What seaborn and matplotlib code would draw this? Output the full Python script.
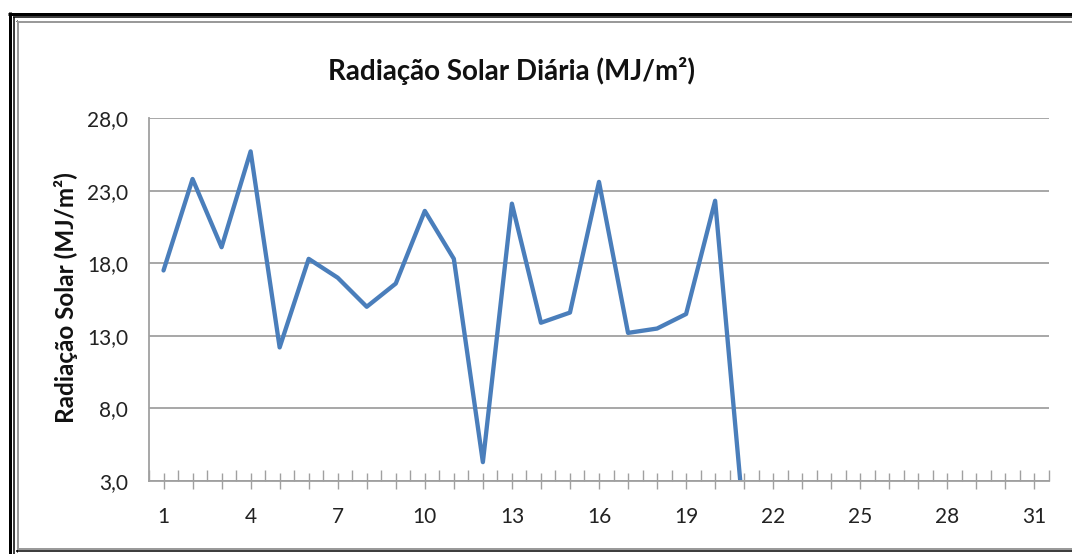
import matplotlib
matplotlib.use("Agg")
import matplotlib.pyplot as plt
from matplotlib.lines import Line2D
from matplotlib.ticker import FixedLocator, FuncFormatter
import seaborn as sns
import pandas as pd

# ---- data ----
days = list(range(1, 22))
radiation = [17.5, 23.8, 19.1, 25.7, 12.2, 18.3, 17.0, 15.0, 16.6, 21.6,
             18.3, 4.3, 22.1, 13.9, 14.6, 23.6, 13.2, 13.5, 14.5, 22.3, 0.0]
y_ticks = [3.0, 8.0, 13.0, 18.0, 23.0, 28.0]
x_tick_labels = [1, 4, 7, 10, 13, 16, 19, 22, 25, 28, 31]
title = "Radiação Solar Diária (MJ/m²)"
ylabel = "Radiação Solar (MJ/m²)"

sns.set_theme(style="white")
plt.rcParams["font.family"] = ["Lato", "DejaVu Sans"]

W, H = 1072, 554
fig = plt.figure(figsize=(W / 100, H / 100), dpi=100)
fig.patch.set_facecolor("white")

ax = fig.add_axes([149 / W, 1 - 481 / H, (1049 - 149) / W, (481 - 118) / H])
df = pd.DataFrame({"dia": days, "rad": radiation})
sns.lineplot(data=df, x="dia", y="rad", ax=ax, color="#4a7ebb", linewidth=3.1)

ax.set_xlim(0.5, 31.5)
ax.set_ylim(3, 28)
ax.set_yticks(y_ticks)
ax.yaxis.set_major_formatter(FuncFormatter(lambda v, p: f"{v:.1f}".replace(".", ",")))
ax.xaxis.set_major_locator(FixedLocator(list(range(1, 32))))
ax.xaxis.set_major_formatter(FuncFormatter(lambda v, p: str(int(round(v))) if int(round(v)) in x_tick_labels else ""))
ax.xaxis.set_minor_locator(FixedLocator([i + 0.5 for i in range(0, 32)]))

ax.grid(axis="y", color="#a0a0a0", linewidth=1.3)
ax.grid(axis="x", visible=False)
ax.set_axisbelow(True)
for s in ["top", "right"]:
    ax.spines[s].set_visible(False)
for s in ["left", "bottom"]:
    ax.spines[s].set_color("#a0a0a0")
    ax.spines[s].set_linewidth(1.3)

ax.tick_params(axis="y", which="both", left=False, labelsize=15, pad=9, labelcolor="#222222")
ax.tick_params(axis="x", which="major", bottom=True, direction="inout", length=12,
               width=1.0, color="#a0a0a0", labelsize=15, pad=13, labelcolor="#222222")
ax.tick_params(axis="x", which="minor", bottom=True, direction="in", length=8,
               width=1.0, color="#a0a0a0")

ax.set_xlabel("")
ax.set_ylabel("")
fig.text(66 / W, 1 - 298 / H, ylabel, rotation=90, ha="center", va="center",
         fontsize=17.5, fontweight="bold", color="#111111")
fig.text(512 / W, 1 - 71 / H, title, ha="center", va="center",
         fontsize=20, fontweight="bold", color="#111111")

# ---- frame ----
def hline(y, x0, x1, lw, c):
    fig.add_artist(Line2D([x0 / W, x1 / W], [1 - y / H, 1 - y / H], lw=lw * 0.72, color=c,
                          transform=fig.transFigure, solid_capstyle="butt"))

def vline(x, y0, y1, lw, c):
    fig.add_artist(Line2D([x / W, x / W], [1 - y0 / H, 1 - y1 / H], lw=lw * 0.72, color=c,
                          transform=fig.transFigure, solid_capstyle="butt"))

# outer thick
hline(13.5, 8, W + 5, 3, "black")
vline(9.5, 12, H + 5, 3, "black")
# thin
hline(17.3, 13, W + 5, 1.5, "black")
vline(13.8, 16.5, H + 5, 1.5, "black")
# inner
hline(20.5, 16, W + 5, 1, "black")
vline(16.5, 20, 552, 1, "black")
hline(22, 17, W + 5, 2, "#9a9a9a")
vline(18, 21, 550, 2, "#9a9a9a")
hline(549, 17, W + 5, 2, "#9a9a9a")
hline(551.3, 16, W + 5, 1.5, "black")

fig.savefig("out.png", dpi=100, facecolor="white")
